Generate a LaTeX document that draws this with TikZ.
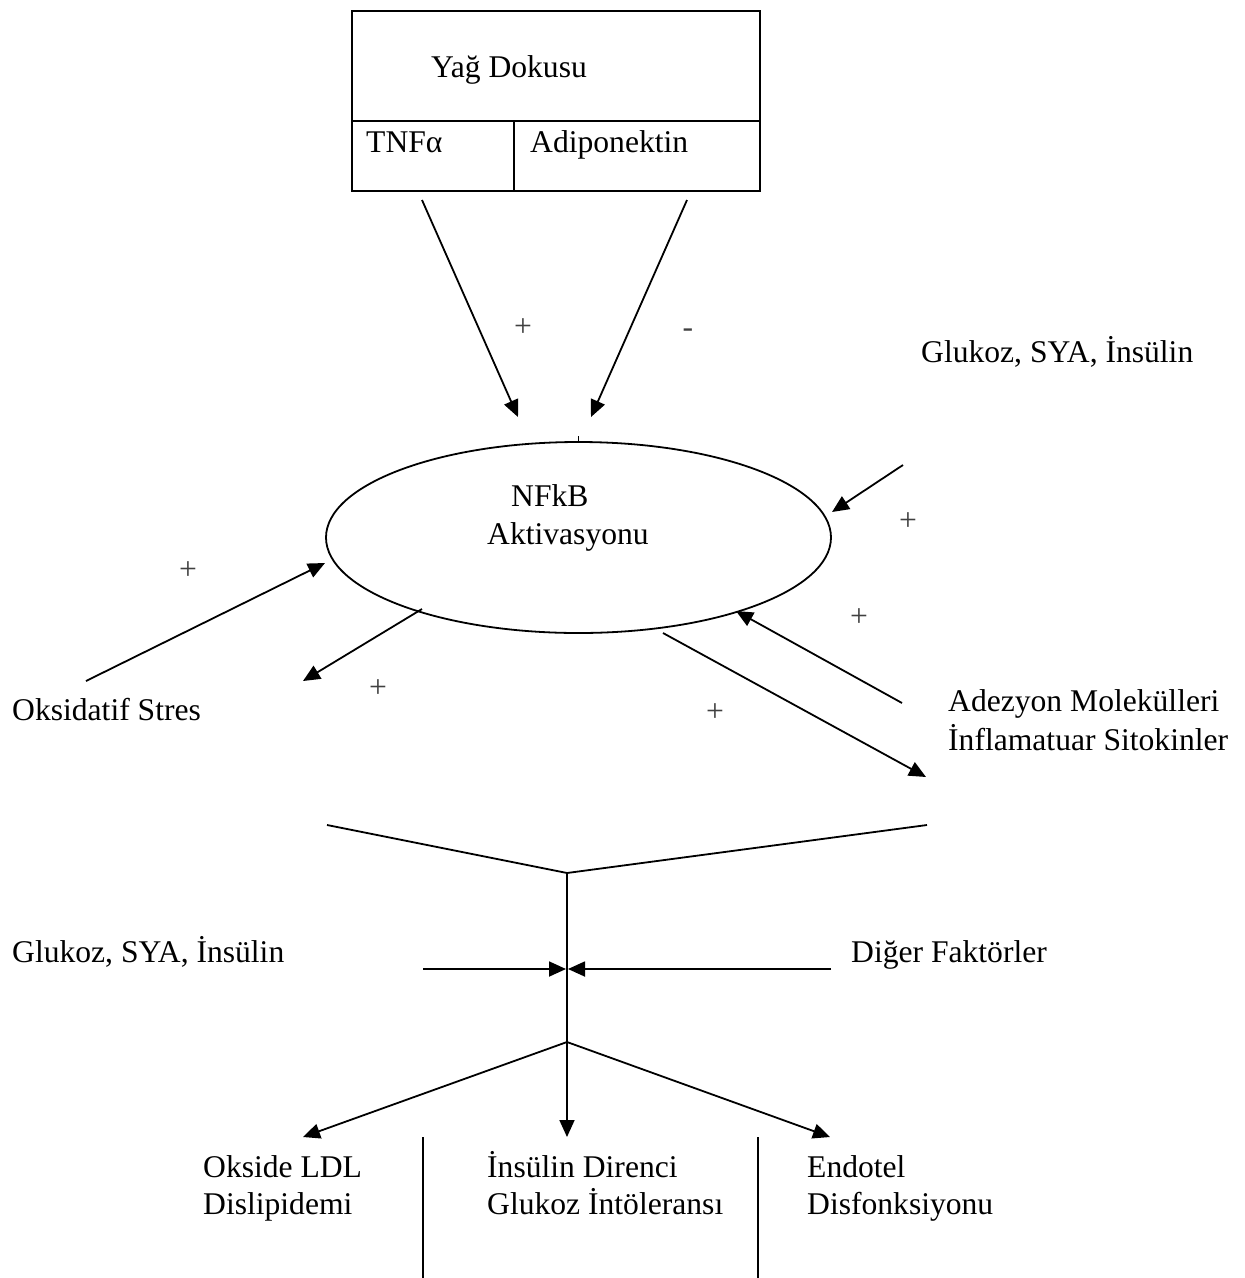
\documentclass[tikz,border=0pt]{standalone}
\usepackage{fontspec}
\setmainfont{Liberation Serif}
\usetikzlibrary{arrows.meta,shapes.geometric}
\begin{document}
\begin{tikzpicture}[x=1pt,y=-1pt,
  lbl/.style={font=\fontsize{31.6}{38}\selectfont, inner sep=0pt, anchor=base west},
  sgn/.style={font=\fontsize{31.6}{38}\selectfont, inner sep=0pt, text=black!75},
  ln/.style={line width=1.8pt},
  arr/.style={line width=1.8pt, -{Triangle[length=17pt,width=15pt]}},
]
\useasboundingbox (0,0) rectangle (1245,1278);
% top box
\node[draw, ln, minimum width=408pt, minimum height=180pt, inner sep=0pt, anchor=north west] (box) at (351,10) {};
\coordinate (hdL) at (351,121);
\coordinate (hdR) at (759,121);
\coordinate (vdT) at (514,121);
\coordinate (vdB) at (514,190);
\draw[ln] (hdL) -- (hdR);
\draw[ln] (vdT) -- (vdB);
\node[lbl] (yag) at (431,77) {Yağ Dokusu};
\node[lbl] (tnf) at (366,152) {TNFα};
\node[lbl] (adp) at (530,152) {Adiponektin};
% ellipse
\node[draw, ln, ellipse, minimum width=505pt, minimum height=191pt, inner sep=0pt] (nfkb) at (578.5,537.5) {};
\coordinate (tickA) at (578,436);
\coordinate (tickB) at (578,443);
\draw[line width=1pt] (tickA) -- (tickB);
\node[lbl] (nf1) at (511,506) {NFkB};
\node[lbl] (nf2) at (487,544) {Aktivasyonu};
% labels
\node[lbl] (glu1) at (921,362) {Glukoz, SYA, İnsülin};
\node[lbl] (oks) at (12,720) {Oksidatif Stres};
\node[lbl] (adz1) at (948,711) {Adezyon Molekülleri};
\node[lbl] (adz2) at (948,750) {İnflamatuar Sitokinler};
\node[lbl] (glu2) at (12,962) {Glukoz, SYA, İnsülin};
\node[lbl] (diger) at (851,962) {Diğer Faktörler};
\node[lbl] (ok1) at (203,1177) {Okside LDL};
\node[lbl] (ok2) at (203,1214) {Dislipidemi};
\node[lbl] (in1) at (487,1177) {İnsülin Direnci};
\node[lbl] (in2) at (487,1214) {Glukoz İntöleransı};
\node[lbl] (en1) at (807,1177) {Endotel};
\node[lbl] (en2) at (807,1214) {Disfonksiyonu};
% signs
\node[sgn] (p1) at (523,328) {+};
\node[sgn, anchor=base] (m1) at (688,337) {-};
\node[sgn] (p2) at (908,522) {+};
\node[sgn] (p3) at (188,571) {+};
\node[sgn] (p4) at (378,689) {+};
\node[sgn] (p5) at (859,618) {+};
\node[sgn] (p6) at (715,713) {+};
% arrow end points
\coordinate (tnfS) at (422,200);
\coordinate (tnfE) at (518,417);
\coordinate (adpS) at (687,200);
\coordinate (adpE) at (591,417);
\coordinate (gluS) at (903,465);
\coordinate (gluE) at (832,512);
\coordinate (oksS) at (86,681);
\coordinate (oksE) at (325,563);
\coordinate (dlS) at (422,609);
\coordinate (dlE) at (303,681);
\coordinate (adzS) at (902,703);
\coordinate (adzE) at (736,611);
\coordinate (drS) at (663,633);
\coordinate (drE) at (926,777);
\coordinate (fL) at (327,825);
\coordinate (apex) at (567,873);
\coordinate (fR) at (927,825);
\coordinate (branch) at (567,1042);
\coordinate (hLS) at (423,969);
\coordinate (hLE) at (566,969);
\coordinate (hRS) at (831,969);
\coordinate (hRE) at (568,969);
\coordinate (bL) at (303,1137);
\coordinate (bM) at (567,1137);
\coordinate (bR) at (830,1137);
\coordinate (s1T) at (423,1137);
\coordinate (s1B) at (423,1278);
\coordinate (s2T) at (758,1137);
\coordinate (s2B) at (758,1278);
% arrows
\draw[arr] (tnfS) -- (tnfE);
\draw[arr] (adpS) -- (adpE);
\draw[arr] (gluS) -- (gluE);
\draw[arr] (oksS) -- (oksE);
\draw[arr] (dlS) -- (dlE);
\draw[arr] (adzS) -- (adzE);
\draw[arr] (drS) -- (drE);
\draw[ln] (fL) -- (apex) -- (fR);
\draw[ln] (apex) -- (branch);
\draw[arr] (hLS) -- (hLE);
\draw[arr] (hRS) -- (hRE);
\draw[arr] (branch) -- (bL);
\draw[arr] (branch) -- (bM);
\draw[arr] (branch) -- (bR);
\draw[ln] (s1T) -- (s1B);
\draw[ln] (s2T) -- (s2B);
\end{tikzpicture}
\end{document}
